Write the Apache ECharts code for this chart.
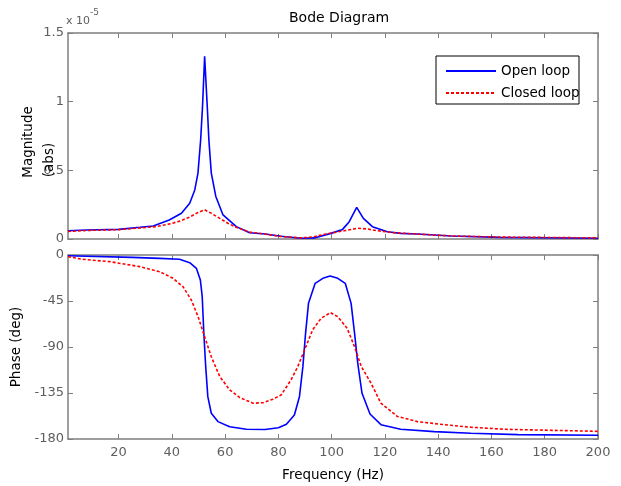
<!DOCTYPE html>
<html>
<head>
<meta charset="utf-8">
<script src="https://cdn.jsdelivr.net/npm/echarts@6/dist/echarts.min.js"></script>
<style>
html,body{margin:0;padding:0;background:#fff;}
#chart{width:621px;height:486px;}
</style>
</head>
<body>
<div id="chart"></div>
<script>
// ---- data (magnitude in units of 1e-5, phase in degrees, frequency in Hz) ----
const freqTicks = [20, 40, 60, 80, 100, 120, 140, 160, 180, 200];
const magTicks = [0, 0.5, 1, 1.5];
const phaseTicks = [-180, -135, -90, -45, 0];

const magOpenHz = [1, 8, 20, 28, 33, 39, 43.6, 46.7, 48.6, 49.8, 50.8, 51.5, 52.3, 53.3, 53.9, 54.8, 56.5, 59.2, 64.2, 69.2, 75, 81, 88.5, 93.5, 99.7, 104.1, 106.6, 109.4, 111.9, 115.3, 120.9, 125.9, 132, 145, 163, 200];
const magOpen = [0.06, 0.065, 0.07, 0.085, 0.095, 0.138, 0.187, 0.26, 0.357, 0.48, 0.72, 0.96, 1.33, 0.96, 0.72, 0.48, 0.31, 0.175, 0.09, 0.046, 0.036, 0.02, 0.006, 0.008, 0.041, 0.07, 0.126, 0.23, 0.15, 0.09, 0.053, 0.041, 0.036, 0.022, 0.012, 0.006];

const magClosedHz = [1, 8, 20, 27.9, 34, 39.2, 43, 46.7, 49.5, 52.3, 55, 58, 61, 64.2, 69.2, 75, 81.1, 88.5, 93, 97.2, 104.7, 109.7, 113.4, 117.2, 123.4, 132, 145, 163, 200];
const magClosed = [0.055, 0.062, 0.068, 0.08, 0.09, 0.11, 0.13, 0.16, 0.19, 0.213, 0.185, 0.15, 0.115, 0.085, 0.05, 0.036, 0.018, 0.008, 0.015, 0.034, 0.06, 0.078, 0.073, 0.06, 0.046, 0.036, 0.022, 0.014, 0.008];

const phaseOpenHz = [1, 25, 35.4, 42.9, 46.7, 49.2, 50.7, 51.4, 52, 52.7, 53.5, 54.8, 57.3, 61.7, 68, 75, 80, 83, 86, 87.9, 89.2, 90.2, 91.3, 93.8, 96.7, 99.4, 102.3, 105.1, 107.3, 108.6, 109.8, 111.4, 114.4, 118.5, 125.9, 138.5, 152.3, 170, 200];
const phaseOpen = [-0.7, -2.3, -3.3, -4.2, -7.5, -13, -24.5, -40.8, -76.6, -109, -138.6, -154.8, -163, -168, -170.5, -170.7, -169, -165.5, -156.5, -138.6, -109, -76.6, -47.3, -27.7, -22.8, -20.5, -22.8, -27.7, -47.3, -76.6, -106, -135.3, -155.5, -166, -170.5, -172.8, -174.4, -175.7, -176.4];

const phaseClosedHz = [1, 6.5, 16.6, 28, 35.4, 40.4, 44.2, 47.3, 49.8, 52.3, 54.8, 58, 61.7, 65.5, 70.5, 74.2, 78, 81, 84.8, 87.3, 89.8, 92.9, 96, 99.5, 102.3, 105.8, 108.6, 111.1, 114.8, 118.5, 124.7, 132.2, 142.3, 152.3, 165, 200];
const phaseClosed = [-1.6, -4.2, -6.5, -11.4, -16.3, -22.8, -31, -44, -60, -80, -99.5, -119, -132, -139.5, -145, -144.5, -141, -137, -122, -109, -93, -73, -62, -56.4, -60.3, -71.7, -89.7, -109, -125.5, -145, -158, -163, -166, -168.5, -170.5, -172.5];

const seriesNames = ['Open loop', 'Closed loop'];
// ---------------------------------------------------------------------------

function pairs(xs, ys) { return xs.map((x, i) => [x, ys[i]]); }

const FONT = 'DejaVu Sans';
const AXIS_COLOR = '#7f7f7f';
const LABEL_COLOR = '#5e5e5e';

function xAx(gridIndex, position, showLabels, extra) {
  return Object.assign({
    type: 'value', gridIndex, position, min: 1, max: 200,
    axisLine: { show: true, onZero: false, lineStyle: { color: AXIS_COLOR, width: 1.5 } },
    axisTick: { show: true, inside: true, length: 5, customValues: freqTicks, lineStyle: { color: AXIS_COLOR, width: 1 } },
    axisLabel: { show: showLabels, customValues: freqTicks, margin: 7, color: LABEL_COLOR, fontFamily: FONT, fontSize: 13 },
    splitLine: { show: false }
  }, extra || {});
}
function yAx(gridIndex, position, min, max, interval, showLabels, extra) {
  return Object.assign({
    type: 'value', gridIndex, position, min, max, interval,
    axisLine: { show: true, onZero: false, lineStyle: { color: AXIS_COLOR, width: 1.5 } },
    axisTick: { show: true, inside: true, length: 5, lineStyle: { color: AXIS_COLOR, width: 1 } },
    axisLabel: { show: showLabels, margin: 4, color: LABEL_COLOR, fontFamily: FONT, fontSize: 13 },
    splitLine: { show: false }
  }, extra || {});
}

const blue = { color: '#0000ff', width: 1.6, type: 'solid' };
const red = { color: '#ff0000', width: 1.6, type: [3, 2] };

const option = {
  animation: false,
  backgroundColor: '#ffffff',
  title: {
    text: 'Bode Diagram', left: 289, top: 11, padding: 0,
    textStyle: { fontFamily: FONT, fontSize: 14, fontWeight: 'normal', color: '#000' }
  },
  grid: [
    { left: 68, top: 33, width: 530, height: 206 },
    { left: 68, top: 255, width: 530, height: 184 }
  ],
  xAxis: [
    xAx(0, 'bottom', false),
    xAx(0, 'top', false),
    xAx(1, 'bottom', true, {
      name: 'Frequency (Hz)', nameLocation: 'middle', nameGap: 29,
      nameTextStyle: { fontFamily: FONT, fontSize: 13.5, color: '#000' }
    }),
    xAx(1, 'top', false)
  ],
  yAxis: [
    yAx(0, 'left', 0, 1.5, 0.5, true),
    yAx(0, 'right', 0, 1.5, 0.5, false),
    yAx(1, 'left', -180, 0, 45, true, {
      name: 'Phase (deg)', nameLocation: 'middle', nameGap: 42, nameRotate: 90,
      nameTextStyle: { fontFamily: FONT, fontSize: 13.5, color: '#000' }
    }),
    yAx(1, 'right', -180, 0, 45, false)
  ],
  legend: {
    data: seriesNames,
    orient: 'vertical', left: 436, top: 56, padding: [8, 0, 4, 9],
    itemWidth: 50, itemHeight: 14, itemGap: 8, z: 10,
    itemStyle: { opacity: 0 },
    textStyle: { fontFamily: FONT, fontSize: 13.5, color: '#000' }
  },
  graphic: [
    { type: 'rect', z: 5, shape: { x: 436, y: 56, width: 143, height: 48 },
      style: { fill: '#fff', stroke: '#000', lineWidth: 1 } },
    { type: 'text', x: 28, y: 142, rotation: Math.PI / 2, z: 5,
      style: { text: 'Magnitude', fontFamily: FONT, fontSize: 13.5, fill: '#000', textAlign: 'center', textVerticalAlign: 'middle' } },
    { type: 'text', x: 49, y: 160, rotation: Math.PI / 2, z: 5,
      style: { text: '(abs)', fontFamily: FONT, fontSize: 13.5, fill: '#000', textAlign: 'center', textVerticalAlign: 'middle' } },
    { type: 'text', x: 66, y: 21, z: 5,
      style: { text: 'x 10', fontFamily: FONT, fontSize: 11, fill: LABEL_COLOR, textAlign: 'left', textVerticalAlign: 'middle' } },
    { type: 'text', x: 90, y: 13, z: 5,
      style: { text: '-5', fontFamily: FONT, fontSize: 9, fill: LABEL_COLOR, textAlign: 'left', textVerticalAlign: 'middle' } }
  ],
  series: [
    { name: seriesNames[0], type: 'line', xAxisIndex: 0, yAxisIndex: 0, symbol: 'none', showSymbol: false,
      lineStyle: blue, itemStyle: { color: blue.color }, data: pairs(magOpenHz, magOpen), z: 3 },
    { name: seriesNames[1], type: 'line', xAxisIndex: 0, yAxisIndex: 0, symbol: 'none', showSymbol: false,
      lineStyle: red, itemStyle: { color: red.color }, data: pairs(magClosedHz, magClosed), z: 4 },
    { name: seriesNames[0], type: 'line', xAxisIndex: 2, yAxisIndex: 2, symbol: 'none', showSymbol: false,
      lineStyle: blue, itemStyle: { color: blue.color }, data: pairs(phaseOpenHz, phaseOpen), z: 3 },
    { name: seriesNames[1], type: 'line', xAxisIndex: 2, yAxisIndex: 2, symbol: 'none', showSymbol: false,
      lineStyle: red, itemStyle: { color: red.color }, data: pairs(phaseClosedHz, phaseClosed), z: 4 }
  ]
};

const chart = echarts.init(document.getElementById('chart'), null, { renderer: 'canvas' });
chart.setOption(option);
</script>
</body>
</html>
